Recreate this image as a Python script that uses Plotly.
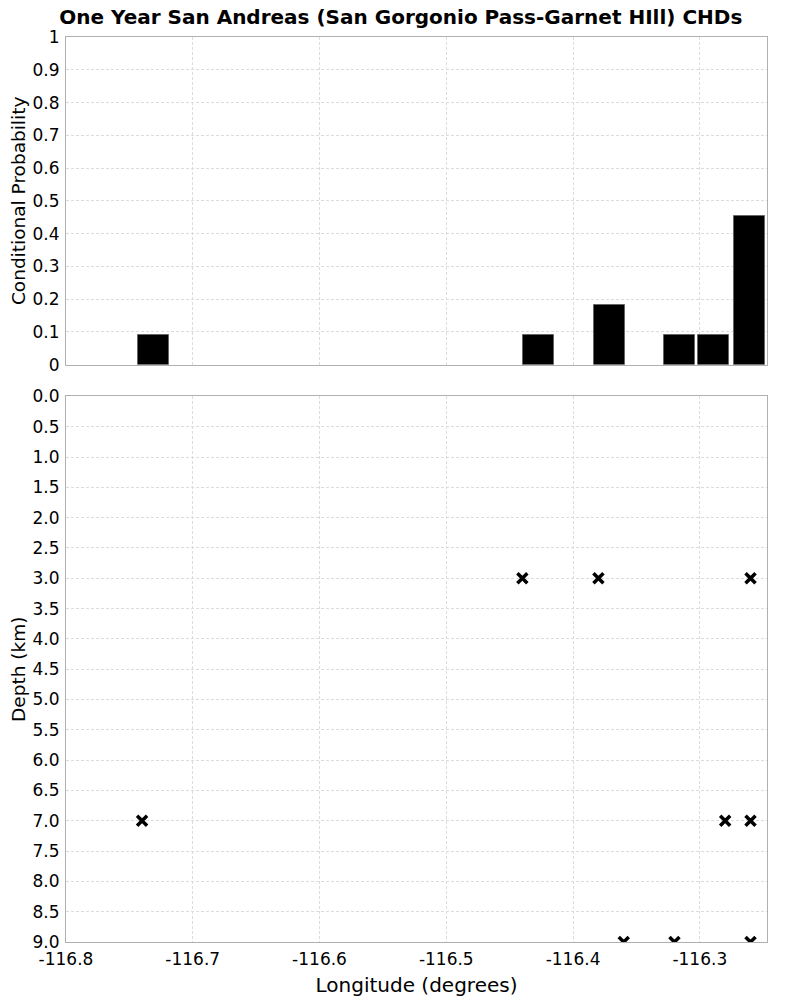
import plotly.graph_objects as go
from plotly.subplots import make_subplots

# Histogram of conditional probability by longitude bin
bin_centers = [-116.731, -116.427, -116.371, -116.316, -116.289, -116.261]
probabilities = [0.0909, 0.0909, 0.1818, 0.0909, 0.0909, 0.4545]
bin_width = 0.0245

# Hypocenters (longitude, depth)
event_lons = [-116.74, -116.44, -116.38, -116.26, -116.28, -116.26, -116.36, -116.32, -116.26]
event_depths = [7.0, 3.0, 3.0, 3.0, 7.0, 7.0, 9.0, 9.0, 9.0]

# Axis ticks
x_tick_vals = [-116.8, -116.7, -116.6, -116.5, -116.4, -116.3]
x_tick_labels = ["-116.8", "-116.7", "-116.6", "-116.5", "-116.4", "-116.3"]

title_text = "One Year San Andreas (San Gorgonio Pass-Garnet HIll) CHDs"

FONT = "DejaVu Sans"
GRID = "#dcdcdc"
AXLINE = "#b0b0b0"
TICK_SIZE = 17

fig = make_subplots(rows=2, cols=1, shared_xaxes=True, vertical_spacing=0.035,
                    row_heights=[0.3624, 0.6033])

fig.add_trace(go.Bar(x=bin_centers, y=probabilities, width=bin_width,
                     marker=dict(color="black", line=dict(color="#666666", width=1)),
                     showlegend=False), row=1, col=1)

fig.add_trace(go.Scatter(x=event_lons, y=event_depths, mode="markers",
                         marker=dict(symbol="x-thin-open", size=10, color="black",
                                     line=dict(color="black", width=3.5)),
                         showlegend=False), row=2, col=1)

axis_common = dict(showgrid=True, gridcolor=GRID, griddash="3px,2px", gridwidth=1,
                   showline=True, linecolor=AXLINE, linewidth=1, mirror=True,
                   zeroline=False, ticks="", automargin=False,
                   tickfont=dict(family=FONT, size=TICK_SIZE, color="black"))

fig.update_xaxes(range=[-116.8, -116.247], tickvals=x_tick_vals, ticktext=x_tick_labels, **axis_common)
fig.update_xaxes(showticklabels=False, row=1, col=1)
fig.update_xaxes(title=dict(text="Longitude (degrees)", font=dict(family=FONT, size=20, color="black"),
                            standoff=9), ticklabelstandoff=2, row=2, col=1)

fig.update_yaxes(range=[0, 1], dtick=0.1, tick0=0, ticklabelstandoff=2,
                 title=dict(text="Conditional Probability", font=dict(family=FONT, size=18.5, color="black"),
                            standoff=2),
                 row=1, col=1, **axis_common)
fig.update_yaxes(range=[9, 0], dtick=0.5, tick0=0, tickformat=".1f", ticklabelstandoff=2,
                 title=dict(text="Depth (km)", font=dict(family=FONT, size=18.5, color="black"),
                            standoff=2),
                 row=2, col=1, **axis_common)

fig.update_layout(
    width=800, height=1000,
    margin=dict(l=58, r=41, t=29, b=66),
    paper_bgcolor="white", plot_bgcolor="white",
    bargap=0,
    title=dict(text="<b>" + title_text + "</b>", x=0.491, xanchor="center", y=0.991, yanchor="middle",
               font=dict(family=FONT, size=20, color="black")),
    font=dict(family=FONT, color="black"),
)

fig.write_html("out.html")
